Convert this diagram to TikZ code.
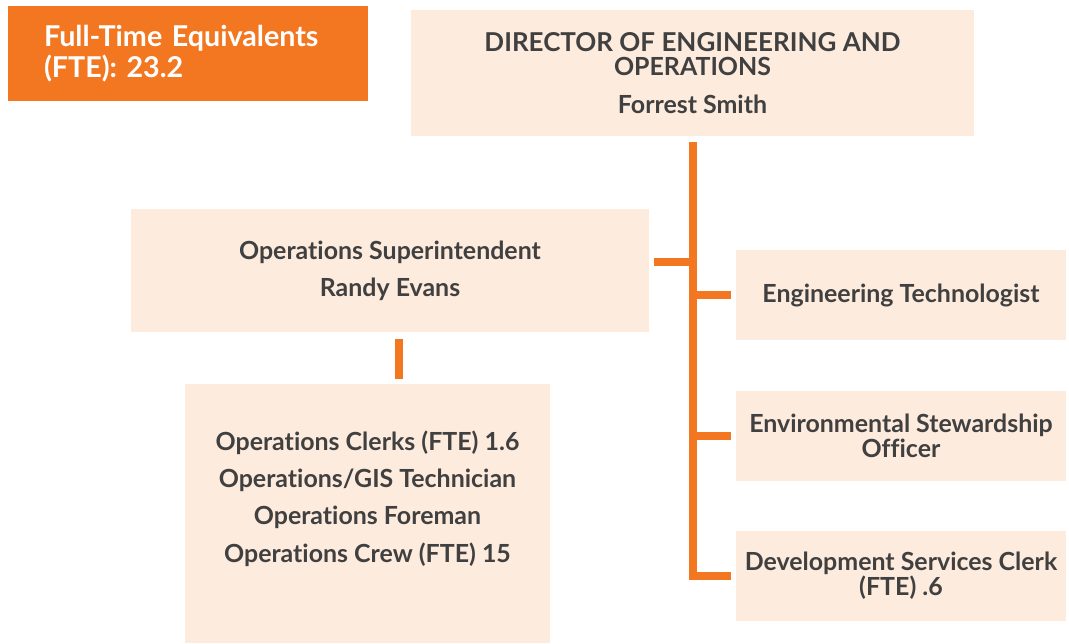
\documentclass[tikz,border=0pt]{standalone}
\usepackage{fontspec}
\setmainfont{Lato}[Ligatures=NoCommon]
\usetikzlibrary{calc}

\definecolor{fteorange}{HTML}{F37721}
\definecolor{boxpeach}{HTML}{FDEBDE}
\definecolor{textgray}{HTML}{404040}

\tikzset{
    box/.style={fill=boxpeach, text=textgray, align=center, inner sep=0pt,
        font=\bfseries\fontsize{18.7}{18}\selectfont},
    sidebox/.style={box, minimum width=247.5pt, minimum height=67.5pt},
    bar/.style={draw=fteorange, line width=6pt},
}

\begin{document}
\begin{tikzpicture}[x=0.75pt,y=-0.75pt]
    \useasboundingbox (0,0) rectangle (1069,643);
    % headcount tag
    \node (fte) [fill=fteorange, text=white, font=\bfseries\fontsize{21.5}{25}\selectfont,
        minimum width=270pt, minimum height=71.25pt, text width=216pt, inner xsep=27pt,
        inner ysep=0pt, align=left] at (188,53.5) {\raisebox{-2pt}{Full-Time Equivalents}\\(FTE): 23.2};
    % boxes
    \node (dir) [box, minimum width=422.25pt, minimum height=94.5pt] at (692.5,73)
        {\fontsize{19.5}{18}\selectfont DIRECTOR OF ENGINEERING AND\\OPERATIONS\\[11pt]Forrest Smith};
    \node (boss) [box, minimum width=388.5pt, minimum height=92.25pt] at (390,270.5)
        {Operations Superintendent\\[10pt]Randy Evans};
    \node (crewbox) [box, minimum width=273.75pt, minimum height=194.25pt] at (367.5,513.5) {};
    \node (crew) [box, fill=none] at (367.5,498.5)
        {Operations Clerks (FTE) 1.6\\[10pt]Operations/GIS Technician\\[10pt]Operations Foreman\\[10pt]Operations Crew (FTE) 15};
    \node (tech) [sidebox] at (901,295) {Engineering Technologist};
    \node (env) [sidebox] at (901,436) {Environmental Stewardship\\[1pt]Officer};
    \node (dev) [sidebox] at (901,576) {Development Services Clerk\\[1pt](FTE) .6};
    % connectors
    \coordinate (top) at ($(dir.south)+(0,6)$);
    \coordinate (bossjoin) at ($(boss.east)+(5,-8.5)$);
    \draw[bar] (top) -- (top |- dev.west) -- ($(dev.west)+(-5,0)$);
    \draw[bar] (top |- tech.west) -- ($(tech.west)+(-5,0)$);
    \draw[bar] (top |- env.west) -- ($(env.west)+(-5,0)$);
    \draw[bar] (bossjoin) -- (top |- bossjoin);
    \draw[bar] ($(boss.south)+(9,7)$) -- ($(boss.south |- crewbox.north)+(9,-5)$);
\end{tikzpicture}
\end{document}
